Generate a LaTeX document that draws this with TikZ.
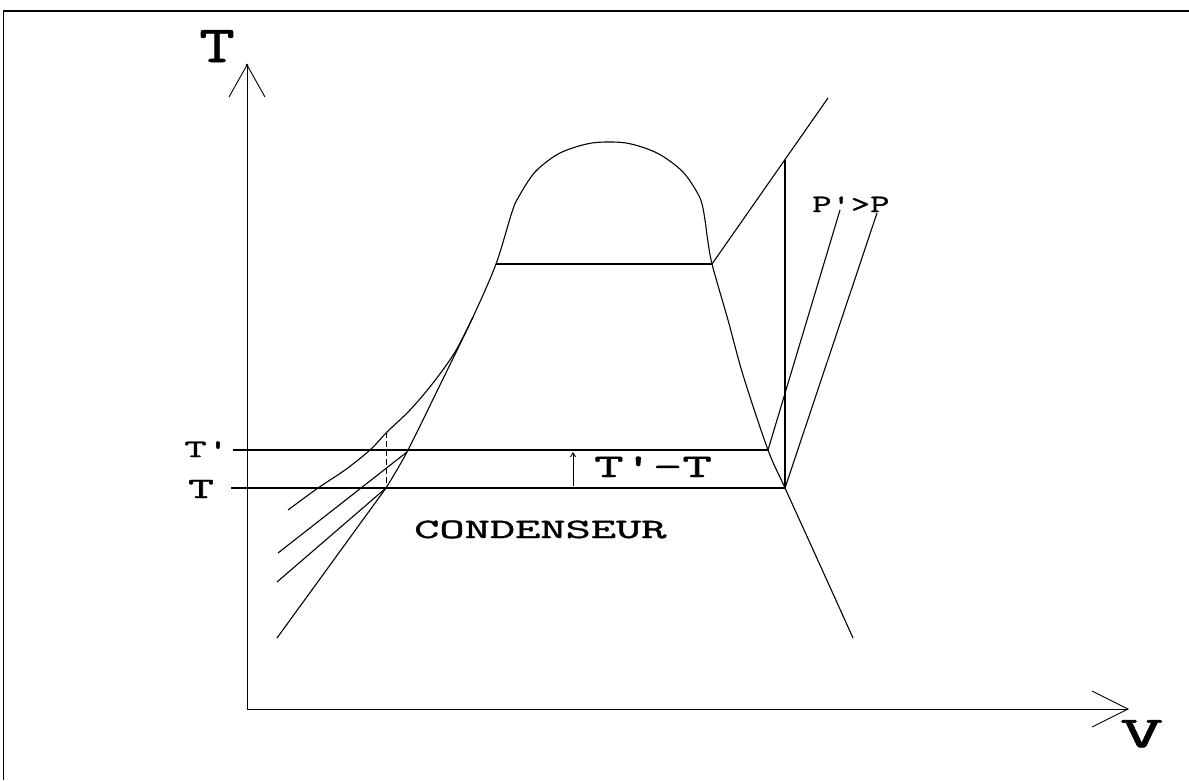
\documentclass[tikz,border=0pt]{standalone}
\usepackage{fontspec}
\newfontfamily\lblfont[FakeBold=1.2]{Latin Modern Mono}
\usetikzlibrary{arrows.meta}
\newcommand\lbltext[3]{\fontsize{#1}{#1}\selectfont\scalebox{#2}[1]{#3}}
\begin{document}
\begin{tikzpicture}[x=1pt,y=-1pt,
  curve/.style={line width=1.1pt, line join=round},
  thinline/.style={line width=0.9pt},
  frameline/.style={line width=1.8pt},
  lbl/.style={font=\lblfont, inner sep=0pt, anchor=base west}]
\useasboundingbox (0,0) rectangle (1189,780);
\fill[white] (0,0) rectangle (1189,780);
% frame
\coordinate (FTL) at (3,11);
\coordinate (FTR) at (1189,11);
\coordinate (FBL) at (3,780);
\draw[frameline] (FTR) -- (FTL);
\draw[thinline] (FTL) -- (FBL);
% axes
\coordinate (O) at (247,709);
\coordinate (Ttip) at (247,65);
\coordinate (TaL) at (229,97);
\coordinate (TaR) at (265,97);
\coordinate (Vtip) at (1128,709);
\coordinate (VaU) at (1092,691);
\coordinate (VaD) at (1092,727);
\draw[thinline] (O) -- (Ttip);
\draw[thinline] (TaL) -- (Ttip) -- (TaR);
\draw[thinline] (O) -- (Vtip);
\draw[thinline] (VaU) -- (Vtip) -- (VaD);
\fill (Ttip) circle (1.5pt);
% saturation curve (liquid line, dome, vapour line)
\draw[curve] plot[smooth, tension=0.5] coordinates {
 (386,488) (407,452) (440,385) (473,317) (496,264) (512,212)
 (518,198) (535,172) (560,153) (592,143) (626,143) (657,153) (683,172)
 (700,198) (705,220) (707,235) (712,264) (728,320) (743,375) (768,450)
 (785,488) (820,565) (853,638)};
% branch curve on the left
\draw[curve] plot[smooth, tension=0.55] coordinates {
 (473,317) (455,352) (433,383) (410,410) (387,432) (370,450) (345,470) (318,488) (288,510)};
% key points
\coordinate (Ld) at (496,264);
\coordinate (Rd) at (712,264);
\coordinate (A1) at (407,452);
\coordinate (A2) at (386,488);
\coordinate (B1) at (768,450);
\coordinate (B2) at (785,488);
\coordinate (Bc) at (386,432);
\coordinate (SH) at (828,98);
\coordinate (Vtop) at (785,160);
\coordinate (Pp) at (840,210);
\coordinate (P) at (877,213);
\coordinate (F1) at (278,553);
\coordinate (F2) at (277,582);
\coordinate (F3) at (277,638);
\coordinate (TpL) at (233,450);
\coordinate (TL) at (231,488);
% lines
\draw[curve] (Ld) -- (Rd);
\draw[curve] (Rd) -- (SH);
\draw[curve] (Vtop) -- (B2);
\draw[curve] (B1) -- (Pp);
\draw[curve] (B2) -- (P);
\draw[curve] (TpL) -- (B1);
\draw[curve] (TL) -- (B2);
\draw[curve] (A1) -- (F1);
\draw[curve] (A2) -- (F2);
\draw[curve] (A2) -- (F3);
\draw[thinline, dashed, dash pattern=on 6pt off 3pt] (Bc) -- (A2);
% small arrow T'-T
\coordinate (dA) at (573,486);
\coordinate (dB) at (573,452);
\draw[thinline, -{Straight Barb[length=4pt, width=5pt]}] (dA) -- (dB);
% labels
\node[lbl] (lT) at (199,62) {\lbltext{52}{1.33}{T}};
\node[lbl] (lTp) at (184,457) {\lbltext{25}{1.75}{T'}};
\node[lbl] (lTT) at (188,498) {\lbltext{29.5}{1.7}{T}};
\node[lbl] (lDiff) at (594,477) {\lbltext{33}{1.73}{T'-T}};
\node[lbl] (lCond) at (414,538) {\lbltext{28}{1.75}{CONDENSEUR}};
\node[lbl] (lP) at (812,212) {\lbltext{25}{1.5}{P'>P}};
\node[lbl] (lV) at (1120,747) {\lbltext{44}{1.9}{V}};
\end{tikzpicture}
\end{document}
